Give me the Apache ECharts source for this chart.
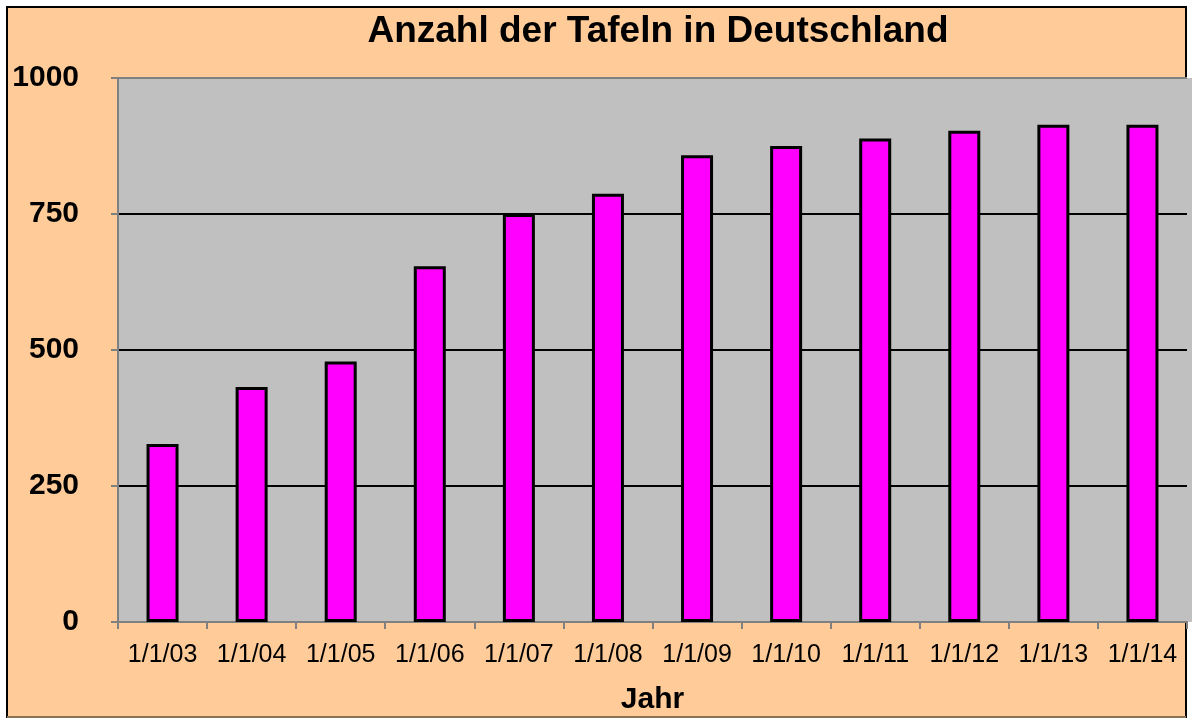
<!DOCTYPE html>
<html>
<head>
<meta charset="utf-8">
<script src="https://cdn.jsdelivr.net/npm/echarts@6/dist/echarts.min.js"></script>
<style>
html,body{margin:0;padding:0;background:#ffffff;}
#chart{width:1192px;height:718px;}
</style>
</head>
<body>
<div id="chart"></div>
<script>
const titleText = 'Anzahl der Tafeln in Deutschland';
const xAxisName = 'Jahr';
const categories = ['1/1/03','1/1/04','1/1/05','1/1/06','1/1/07','1/1/08','1/1/09','1/1/10','1/1/11','1/1/12','1/1/13','1/1/14'];
const tafeln = [327, 432, 479, 654, 750, 787, 858, 875, 889, 903, 914, 914];
const yTicks = [0, 250, 500, 750, 1000];

const chart = echarts.init(document.getElementById('chart'), null, {renderer:'canvas'});
const font = '"Liberation Sans", Arial, sans-serif';

chart.setOption({
  animation: false,
  backgroundColor: '#ffffff',
  graphic: [
    {type:'rect', z:-10, silent:true, shape:{x:7, y:7, width:1179, height:710},
     style:{fill:'#FFCC99', stroke:'#000000', lineWidth:2}},
    {type:'line', z:-9, silent:true, shape:{x1:7, y1:717, x2:1186, y2:717},
     style:{stroke:'#8a7355', lineWidth:2}},
    {type:'rect', z:-8, silent:true, shape:{x:118, y:78, width:1074, height:544},
     style:{fill:'#C0C0C0'}}
  ],
  title: {
    text: titleText,
    left: 653, top: 8, textAlign: 'center',
    textStyle: {fontFamily: font, fontWeight: 'bold', fontSize: 37, color: '#000000'}
  },
  grid: {left: 118, right: 5, top: 78, bottom: 96, containLabel: false, outerBoundsMode: 'none'},
  xAxis: {
    type: 'category',
    data: categories,
    name: xAxisName,
    nameLocation: 'middle',
    nameGap: 63,
    nameTextStyle: {fontFamily: font, fontWeight: 'bold', fontSize: 30, color: '#000000'},
    boundaryGap: true,
    axisLine: {show: true, lineStyle: {color: '#808080', width: 2}},
    axisTick: {show: true, length: 7, alignWithLabel: false, lineStyle: {color: '#808080', width: 2}},
    axisLabel: {fontFamily: font, fontSize: 25, color: '#000000', margin: 21, interval: 0}
  },
  yAxis: {
    type: 'value',
    min: 0, max: 1000, interval: 250,
    axisLine: {show: true, lineStyle: {color: '#808080', width: 2}},
    axisTick: {show: true, length: 7, lineStyle: {color: '#808080', width: 2}},
    axisLabel: {fontFamily: font, fontWeight: 'bold', fontSize: 30, color: '#000000', margin: 39,
      formatter: function(v){ return yTicks.indexOf(v) >= 0 ? String(v) : ''; }},
    splitLine: {show: true, lineStyle: {color: ['#808080','#000000','#000000','#000000','#808080'], width: 2}}
  },
  series: [{
    type: 'bar',
    data: tafeln,
    barWidth: 32,
    itemStyle: {color: '#FF00FF', borderColor: '#000000', borderWidth: 3}
  }]
});
</script>
</body>
</html>
